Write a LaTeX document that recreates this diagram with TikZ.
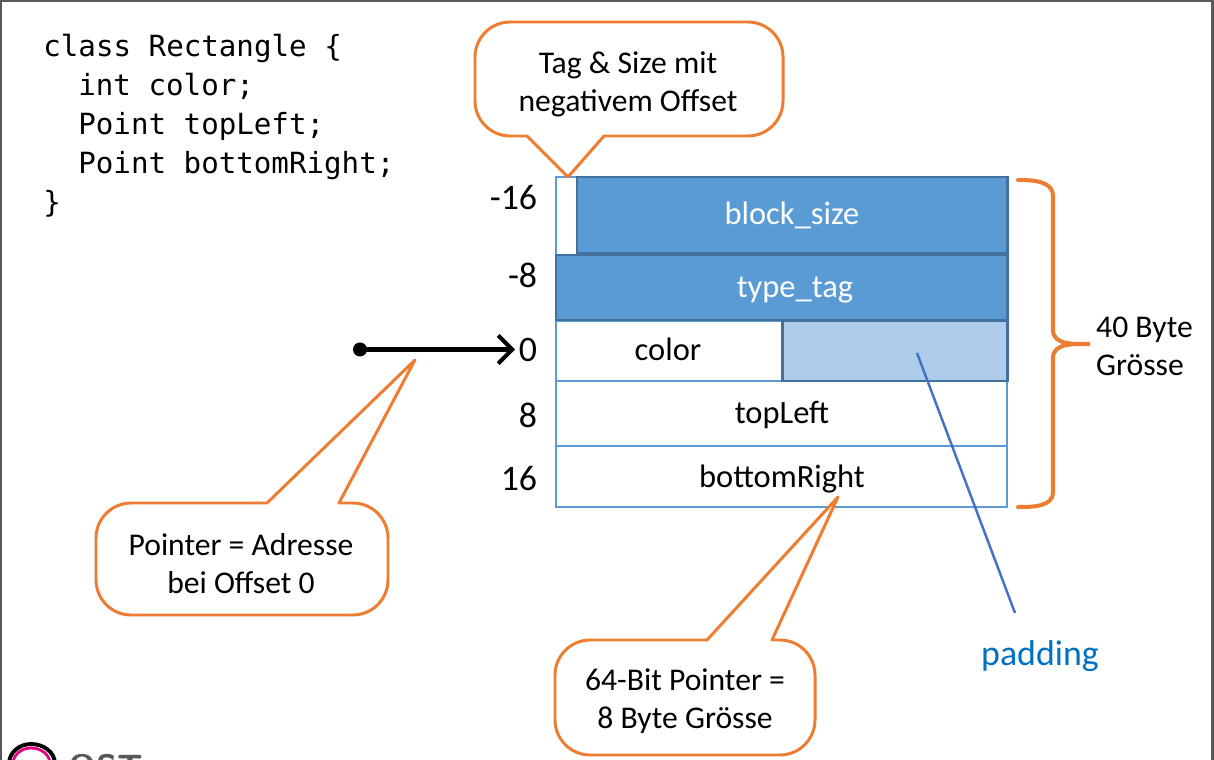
\documentclass[tikz,border=0pt]{standalone}
\usepackage{fontspec}
\setmainfont{Carlito}
\setmonofont{DejaVu Sans Mono}
\usetikzlibrary{arrows.meta}

\definecolor{accent}{HTML}{5B9BD5}
\definecolor{accentdark}{HTML}{41719C}
\definecolor{accentlight}{HTML}{AFCDEA}
\definecolor{callorange}{HTML}{ED7D31}
\definecolor{padblue}{HTML}{4472C4}
\definecolor{padtext}{HTML}{0070C0}
\definecolor{framegray}{HTML}{595959}
\definecolor{logopink}{HTML}{E5007D}

\begin{document}
\begin{tikzpicture}[x=0.02cm, y=-0.02cm,
    cell/.style={draw=accent, line width=1.4pt},
    tagcell/.style={fill=accent, draw=accentdark, line width=1.7pt},
    padcell/.style={fill=accentlight, draw=accentdark, line width=1.7pt},
    callout/.style={draw=callorange, line width=1.7pt, fill=white, line join=round},
    field/.style={font=\fontsize{18.5}{22}\selectfont, anchor=base},
    offset/.style={font=\fontsize{20.4}{24}\selectfont, anchor=base east, inner sep=2pt},
    calltext/.style={font=\fontsize{18}{21.5}\selectfont, align=center},
    codeline/.style={font=\ttfamily\fontsize{16.6}{22}\selectfont, anchor=base west, inner sep=0pt},
    brace/.style={draw=callorange, line width=2.3pt, line cap=round},
    ptrline/.style={line width=2.3pt, line cap=round, -{Straight Barb[length=8pt,width=16pt]}}]
    \useasboundingbox (0,0) rectangle (1214,760);
    \draw[framegray, line width=1.2pt] (1,760) -- (1,1) -- (1212.5,1) -- (1212.5,760);

    \foreach \name/\x/\y/\txt in {code1/43/57/{class Rectangle \{},
        code2/78/96/{int color;}, code3/78/135/{Point topLeft;},
        code4/78/174/{Point bottomRight;}, code5/43/213/{\}}} {
        \node[codeline] (\name) at (\x, \y) {\txt};
    }

    \draw[cell] (556,177) rectangle (1007,507);
    \draw[cell] (556,381) -- (1007,381);
    \draw[cell] (556,446) -- (1007,446);
    \draw[cell] (556,321) rectangle (782,381);
    \draw[padcell] (782,321) rectangle (1007,381);
    \draw[tagcell] (556,255) rectangle (1007,320);
    \draw[tagcell] (577,177) rectangle (1007,253);

    \node[field, text=white] (bsize) at (792,225) {block\_size};
    \node[field, text=white] (ttag) at (795,297) {type\_tag};
    \node[field] (col) at (668,360) {color};
    \node[field] (tleft) at (782,423) {topLeft};
    \node[field] (bright) at (782,487) {bottomRight};

    \foreach \name/\y/\txt in {offm16/210/-16, offm8/288/-8, off0/361/0, off8/427/8, off16/490/16} {
        \node[offset] (\name) at (541, \y) {\txt};
    }

    \draw[brace] (1018,180) to[out=0, in=90] (1053,196) -- (1053,330)
        to[out=-90, in=180] (1090,344) to[out=180, in=90] (1053,358) -- (1053,492)
        to[out=-90, in=0] (1018,507);
    \node[calltext, align=left, anchor=west] (size) at (1090,346) {40 Byte\\Grösse};

    \coordinate (padfrom) at (917,353);
    \coordinate (padto) at (1015,613);
    \draw[padblue, line width=1.4pt] (padfrom) -- (padto);
    \node[font=\fontsize{20.4}{24}\selectfont, text=padtext, anchor=base] (padlbl) at (1040,665) {padding};

    \draw[callout] (568,177) -- (604,136) [rounded corners=20] -- (783,136) -- (783,22)
        -- (475,22) -- (475,136) [sharp corners] -- (527,136) -- cycle;
    \node[calltext] (tagsize) at (628,84) {Tag \& Size mit\\negativem Offset};

    \draw[callout] (415,360) -- (339,503) [rounded corners=20] -- (388,503) -- (388,615)
        -- (96,615) -- (96,503) [sharp corners] -- (267,503) -- cycle;
    \node[calltext] (addr) at (241,564) {Pointer = Adresse\\bei Offset 0};

    \draw[callout] (838,497) -- (772,640) [rounded corners=20] -- (815,640) -- (815,755)
        -- (555,755) -- (555,640) [sharp corners] -- (707,640) -- cycle;
    \node[calltext] (ptrsize) at (685,701) {64-Bit Pointer =\\8 Byte Grösse};

    \coordinate (ptr) at (off0.west -| 360,0);
    \fill (ptr) circle (7);
    \draw[ptrline] (ptr) -- (off0.west);

    \draw[line width=2.2pt] (9,764) to[out=90, in=180] (31,744) to[out=0, in=90] (55,764);
    \draw[logopink, line width=1.6pt] (13,764) to[out=90, in=180] (31,748) to[out=0, in=90] (50,764);
    \node[font=\sffamily\bfseries\fontsize{20}{24}\selectfont, text=framegray, anchor=north west, inner sep=0pt] (ost) at (68,754) {OST};
\end{tikzpicture}
\end{document}
